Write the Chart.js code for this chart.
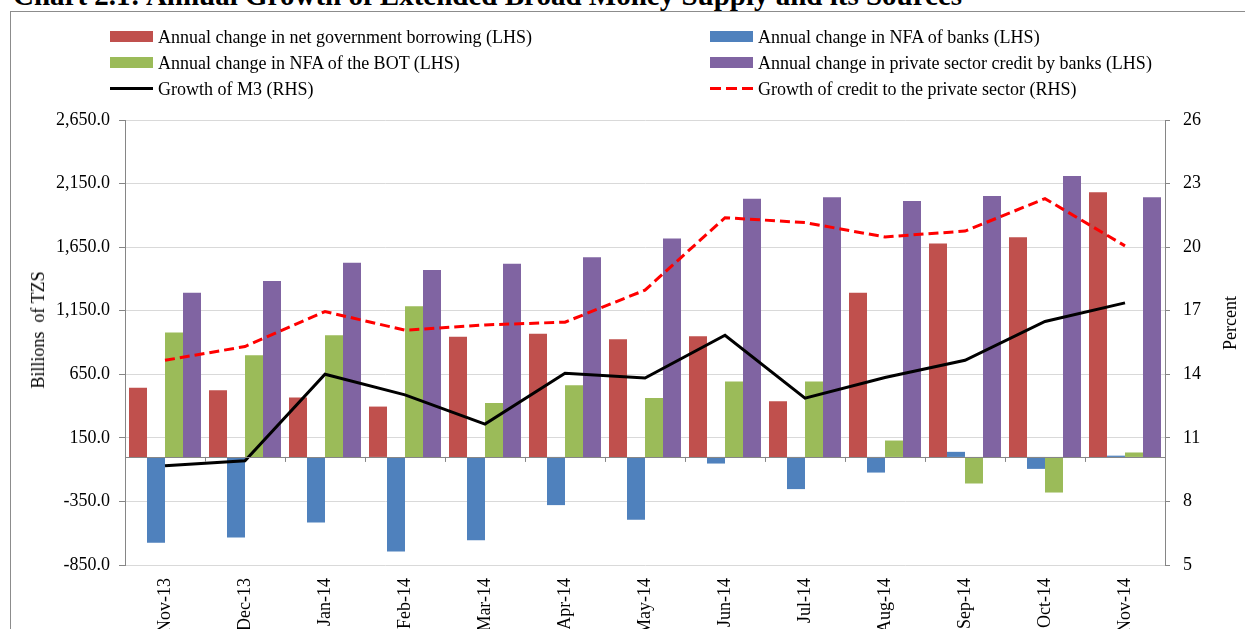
<!DOCTYPE html>
<html>
<head>
<meta charset="utf-8">
<script src="https://cdn.jsdelivr.net/npm/chart.js@4.4.1/dist/chart.umd.min.js"></script>
<style>
    html, body { margin: 0; padding: 0; background: #ffffff; overflow: hidden; }
    #wrap { position: relative; width: 1245px; height: 629px; overflow: hidden; }
    #title {
        position: absolute; left: 13px; top: -19px; white-space: nowrap;
        font: bold 29px 'Liberation Serif', 'Times New Roman', serif; line-height: 29px; color: #000;
    }
    #frame {
        position: absolute; left: 10px; top: 11px; width: 1300px; height: 700px;
        border-left: 1.5px solid #8c8c8c; border-top: 1.5px solid #8c8c8c;
    }
    #chart { position: absolute; left: 0; top: 0; }
    .lg { position: absolute; font: 18px 'Liberation Serif', 'Times New Roman', serif; color: #000; white-space: nowrap; line-height: 20px; }
    .sw { position: absolute; }
    .axt {
        position: absolute; white-space: nowrap; color: #000;
        font: 18px 'Liberation Serif', 'Times New Roman', serif; line-height: 20px;
        transform: translate(-50%, -50%) rotate(-90deg);
    }
</style>
</head>
<body>
<div id="wrap">
    <div id="title">Chart 2.1: Annual Growth of Extended Broad Money Supply and its Sources</div>
    <div id="frame"></div>
    <canvas id="chart" width="1245" height="670"></canvas>
    <div id="legend"></div>
    <div class="axt" style="left:38px; top:330px;">Billions&nbsp; of TZS</div>
    <div class="axt" style="left:1230px; top:323px;">Percent</div>
</div>
<script>
// Nov-13 .. Nov-14
const months = ['Nov-13', 'Dec-13', 'Jan-14', 'Feb-14', 'Mar-14', 'Apr-14', 'May-14', 'Jun-14', 'Jul-14', 'Aug-14', 'Sep-14', 'Oct-14', 'Nov-14'];

// LHS, billions of TZS
const govBorrowing = [545, 525, 467, 396, 946, 968, 926, 950, 438, 1292, 1678, 1728, 2082];
const nfaBanks = [-675, -634, -516, -744, -655, -379, -495, -52, -253, -123, 40, -94, 10];
const nfaBot = [978, 800, 957, 1185, 425, 564, 464, 593, 593, 129, -209, -280, 35];
const privateCredit = [1292, 1384, 1528, 1471, 1520, 1571, 1717, 2031, 2042, 2013, 2053, 2210, 2042];

// RHS, percent
const m3Growth = [9.68, 9.92, 14.0, 13.03, 11.65, 14.05, 13.82, 15.84, 12.87, 13.85, 14.66, 16.49, 17.37];
const creditGrowth = [14.66, 15.31, 16.96, 16.08, 16.33, 16.46, 17.97, 21.39, 21.16, 20.48, 20.76, 22.29, 20.06];

const lhsTicks = { min: -850, max: 2650, step: 500 };
const rhsTicks = { min: 5, max: 26, step: 3 };

const AXIS = '#868686';
const GRID = '#d9d9d9';
const FONT = "'Liberation Serif', 'Times New Roman', serif";

const seriesDefs = [
    { label: 'Annual change in net government borrowing (LHS)', data: govBorrowing, color: '#c0504d', kind: 'bar' },
    { label: 'Annual change in NFA of banks (LHS)', data: nfaBanks, color: '#4f81bd', kind: 'bar' },
    { label: 'Annual change in NFA of the BOT (LHS)', data: nfaBot, color: '#9bbb59', kind: 'bar' },
    { label: 'Annual change in private sector credit by banks (LHS)', data: privateCredit, color: '#8064a2', kind: 'bar' },
    { label: 'Growth of M3 (RHS)', data: m3Growth, color: '#000000', kind: 'line' },
    { label: 'Growth of credit to the private sector (RHS)', data: creditGrowth, color: '#ff0000', kind: 'dash' },
];

// two-column legend, like the Excel original
function buildLegend() {
    const box = document.getElementById('legend');
    const colX = [110, 710];
    const rowY = [36, 62, 88];
    seriesDefs.forEach((s, i) => {
        const x = colX[i % 2];
        const y = rowY[Math.floor(i / 2)];
        const sw = document.createElement('div');
        sw.className = 'sw';
        if (s.kind === 'bar') {
            sw.style.cssText = `left:${x}px;top:${y - 5}px;width:43px;height:11px;background:${s.color}`;
        } else if (s.kind === 'line') {
            sw.style.cssText = `left:${x}px;top:${y - 1.5}px;width:43px;height:3px;background:${s.color}`;
        } else {
            sw.style.cssText = `left:${x}px;top:${y - 1.5}px;width:43px;height:3px;` +
                `background:repeating-linear-gradient(90deg, ${s.color} 0 11px, transparent 11px 16px)`;
        }
        box.appendChild(sw);
        const t = document.createElement('div');
        t.className = 'lg';
        t.style.left = (x + 48) + 'px';
        t.style.top = (y - 9) + 'px';
        t.textContent = s.label;
        box.appendChild(t);
    });
}
buildLegend();

const datasets = seriesDefs.map((s) => {
    if (s.kind === 'bar') {
        return {
            type: 'bar',
            label: s.label,
            data: s.data,
            backgroundColor: s.color,
            borderWidth: 0,
            yAxisID: 'y',
            order: 2,
            categoryPercentage: 0.9,
            barPercentage: 1.0,
        };
    }
    return {
        type: 'line',
        label: s.label,
        data: s.data,
        borderColor: s.color,
        borderWidth: 3,
        borderDash: s.kind === 'dash' ? [10, 5] : [],
        pointRadius: 0,
        tension: 0,
        fill: false,
        yAxisID: 'y1',
        order: 1,
    };
});

const zeroAxisPlugin = {
    id: 'zeroAxis',
    afterDatasetsDraw(c) {
        const { ctx, chartArea, scales } = c;
        const y0 = scales.y.getPixelForValue(0);
        const n = months.length;
        const w = (chartArea.right - chartArea.left) / n;
        ctx.save();
        ctx.strokeStyle = AXIS;
        ctx.lineWidth = 1;
        ctx.beginPath();
        ctx.moveTo(chartArea.left, Math.round(y0) + 0.5);
        ctx.lineTo(chartArea.right, Math.round(y0) + 0.5);
        for (let i = 1; i < n; i++) {
            const x = Math.round(chartArea.left + i * w) + 0.5;
            ctx.moveTo(x, y0);
            ctx.lineTo(x, y0 + 5);
        }
        ctx.stroke();
        ctx.restore();
    },
};

new Chart(document.getElementById('chart').getContext('2d'), {
    data: { labels: months, datasets },
    options: {
        responsive: false,
        animation: false,
        devicePixelRatio: 1,
        layout: { padding: { top: 120, left: 0, right: 0, bottom: 0 } },
        plugins: { legend: { display: false }, tooltip: { enabled: false } },
        scales: {
            x: {
                offset: true,
                grid: { display: false, drawTicks: false },
                border: { display: false },
                ticks: {
                    color: '#000',
                    font: { family: FONT, size: 18 },
                    minRotation: 90,
                    maxRotation: 90,
                    autoSkip: false,
                    padding: 13,
                },
                afterFit(s) { s.height = 105; },
            },
            y: {
                position: 'left',
                min: lhsTicks.min,
                max: lhsTicks.max,
                grid: { color: GRID, lineWidth: 1, drawTicks: true, tickLength: 6, tickColor: AXIS },
                border: { color: AXIS, width: 1 },
                ticks: {
                    stepSize: lhsTicks.step,
                    color: '#000',
                    font: { family: FONT, size: 18 },
                    padding: 9,
                    callback: (v) => Number(v).toLocaleString('en-US', { minimumFractionDigits: 1, maximumFractionDigits: 1 }),
                },
                afterFit(s) { s.width = 125; },
            },
            y1: {
                position: 'right',
                min: rhsTicks.min,
                max: rhsTicks.max,
                grid: { drawOnChartArea: false, drawTicks: true, tickLength: 5, tickColor: AXIS },
                border: { color: AXIS, width: 1 },
                ticks: {
                    stepSize: rhsTicks.step,
                    color: '#000',
                    font: { family: FONT, size: 18 },
                    padding: 13,
                },
                afterFit(s) { s.width = 80; },
            },
        },
    },
    plugins: [zeroAxisPlugin],
});
</script>
</body>
</html>
